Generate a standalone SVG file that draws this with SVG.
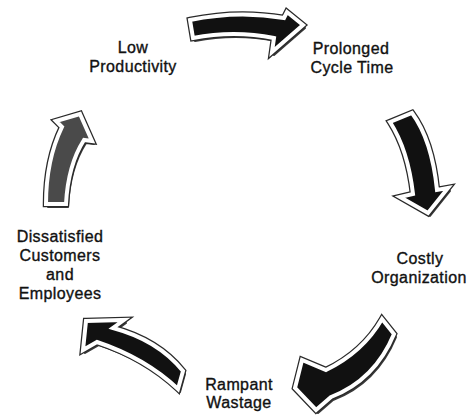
<svg xmlns="http://www.w3.org/2000/svg" width="471" height="415" viewBox="0 0 471 415">
<defs>
<style>
.lbl{font-family:"Liberation Sans",Arial,sans-serif;font-size:16px;letter-spacing:0.4px;fill:#111;stroke:#111;stroke-width:0.35px;text-anchor:middle}
.sh{fill:#3a3a3a;stroke:#3a3a3a;stroke-width:2;stroke-linejoin:round}
.ol{fill:none;stroke:#2a2a2a;stroke-width:6.5;stroke-linejoin:miter}
.ar{stroke:#fff;stroke-width:4;stroke-linejoin:miter}
</style>
<path id="a1" d="M190,20 Q238,10 284,18 L287,12 L303,25 L272,52 L274,38 Q234,30 193,38 Z"/>
<path id="a2" d="M390,122 L412,113 Q432,140 437,190 L448,188 L428,213 L400,197 L413,194 Q408,150 390,122 Z"/>
<path id="a3" d="M382,319 L394,334 Q375,380 331,397 L316,410 L295,388 L302,360 L326,370 Q363,352 382,319 Z"/>
<path id="a4" d="M86,321 L124,320 L113,328 Q158,340 183,371 L178,389 Q145,358 97,342 L83,350 Z"/>
<path id="a5" d="M80,114 L92,141 L84,140 Q68,165 66,204 L46,204 Q46,160 62,127 L56,121 Z"/>
</defs>
<rect width="471" height="415" fill="#fff"/>
<g id="connectors">
<g id="arrow-top"><use href="#a1" class="sh" transform="translate(2,3)"/><use href="#a1" class="ol"/><use href="#a1" class="ar" fill="#111"/></g>
<g id="arrow-right"><use href="#a2" class="sh" transform="translate(2,3)"/><use href="#a2" class="ol"/><use href="#a2" class="ar" fill="#111"/></g>
<g id="arrow-bottom-right"><use href="#a3" class="sh" transform="translate(2,3)"/><use href="#a3" class="ol"/><use href="#a3" class="ar" fill="#111"/></g>
<g id="arrow-bottom-left"><use href="#a4" class="sh" transform="translate(2,3)"/><use href="#a4" class="ol"/><use href="#a4" class="ar" fill="#111"/></g>
<g id="arrow-left"><use href="#a5" class="sh" transform="translate(2,3)"/><use href="#a5" class="ol"/><use href="#a5" class="ar" fill="#4a4a4a"/></g>
</g>
<g id="low-productivity"><text class="lbl" x="133" y="53">Low</text><text class="lbl" x="133" y="72">Productivity</text></g>
<g id="prolonged-cycle-time"><text class="lbl" x="351" y="54">Prolonged</text><text class="lbl" x="352" y="73">Cycle Time</text></g>
<g id="costly-organization"><text class="lbl" x="420" y="264">Costly</text><text class="lbl" x="419" y="283">Organization</text></g>
<g id="rampant-wastage"><text class="lbl" x="239" y="390">Rampant</text><text class="lbl" x="239" y="408">Wastage</text></g>
<g id="dissatisfied"><text class="lbl" x="60" y="242">Dissatisfied</text><text class="lbl" x="60" y="261">Customers</text><text class="lbl" x="60" y="280">and</text><text class="lbl" x="60" y="299">Employees</text></g>
</svg>
